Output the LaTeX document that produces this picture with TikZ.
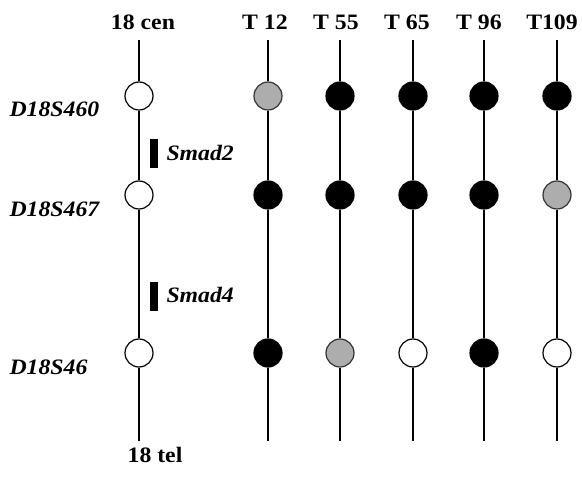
\documentclass[tikz,border=0pt]{standalone}
\usepackage{fontspec}
\setmainfont{Liberation Serif}[FakeStretch=1.08]
\begin{document}
\begin{tikzpicture}[x=1pt,y=-1pt,
  chrom/.style={line width=1.4pt},
  allele/.style={circle,draw,line width=1.2pt,minimum size=28pt,inner sep=0pt},
  wt/.style={allele,fill=white},
  loh/.style={allele,fill=black},
  ni/.style={allele,fill=black!32,draw=black!80},
  head/.style={font=\fontsize{22}{24}\selectfont\bfseries,anchor=base},
  marker/.style={font=\fontsize{22}{24}\selectfont\bfseries\itshape,anchor=west},
  gene/.style={fill=black,minimum width=8pt,minimum height=29pt,inner sep=0pt}]
\useasboundingbox (0,0) rectangle (582,478);
% column positions
\foreach \n/\x in {c/139,a/268,b/340,d/413,e/484,f/557}{
  \coordinate (\n top) at (\x,40);
  \coordinate (\n bot) at (\x,441);
}
% circles
\node[wt]  (c1) at (139,96) {};
\node[wt]  (c2) at (139,195) {};
\node[wt]  (c3) at (139,353) {};
\node[ni]  (a1) at (268,96) {};
\node[loh] (a2) at (268,195) {};
\node[loh] (a3) at (268,353) {};
\node[loh] (b1) at (340,96) {};
\node[loh] (b2) at (340,195) {};
\node[ni]  (b3) at (340,353) {};
\node[loh] (d1) at (413,96) {};
\node[loh] (d2) at (413,195) {};
\node[wt]  (d3) at (413,353) {};
\node[loh] (e1) at (484,96) {};
\node[loh] (e2) at (484,195) {};
\node[loh] (e3) at (484,353) {};
\node[loh] (f1) at (557,96) {};
\node[ni]  (f2) at (557,195) {};
\node[wt]  (f3) at (557,353) {};
% chromosome lines
\foreach \n in {c,a,b,d,e,f}{
  \draw[chrom] (\n top) -- (\n1) -- (\n2) -- (\n3) -- (\n bot);
}
% headings
\node[head] (hc) at (143,30) {18 cen};
\node[head] (ha) at (265,30) {T 12};
\node[head] (hb) at (336,30) {T 55};
\node[head] (hd) at (407,30) {T 65};
\node[head] (he) at (479,30) {T 96};
\node[head] (hf) at (552,30) {T109};
\node[head] (ht) at (155,463) {18 tel};
% marker labels
\node[marker] (m1) at (6,109) {D18S460};
\node[marker] (m2) at (6,209) {D18S467};
\node[marker] (m3) at (6,367) {D18S46};
% genes
\node[gene] (g2) at (153.5,154) {};
\node[gene] (g4) at (153.5,297) {};
\node[marker] (s2) at (163,153) {Smad2};
\node[marker] (s4) at (163,295) {Smad4};
\end{tikzpicture}
\end{document}
